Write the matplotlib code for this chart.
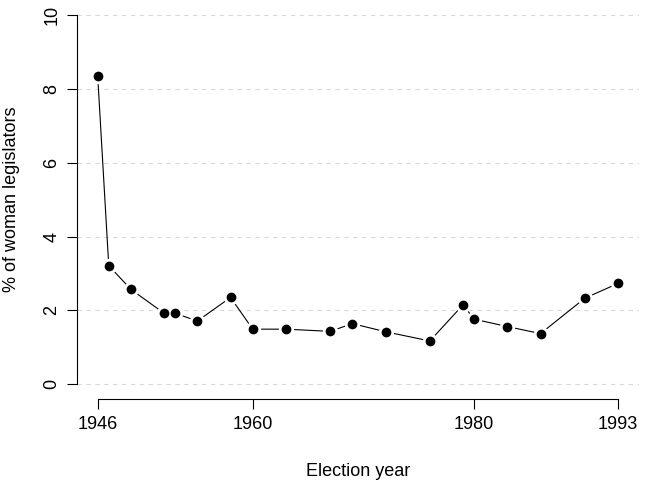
import matplotlib
matplotlib.use("Agg")
from matplotlib import pyplot as plt

years = [1946, 1947, 1949, 1952, 1953, 1955, 1958, 1960, 1963, 1967,
         1969, 1972, 1976, 1979, 1980, 1983, 1986, 1990, 1993]
pct = [8.35, 3.21, 2.57, 1.92, 1.92, 1.71, 2.35, 1.49, 1.49, 1.43,
       1.64, 1.42, 1.17, 2.15, 1.76, 1.56, 1.37, 2.33, 2.73]
xticks = [1946, 1960, 1980, 1993]
yticks = [0, 2, 4, 6, 8, 10]

plt.rcParams["font.family"] = "Liberation Sans"
fig = plt.figure(figsize=(6.46, 4.8), dpi=100)
ax = fig.add_axes([0.119, 0.169, 0.87, 0.83])

for y in yticks:
    ax.axhline(y, color="#d9d9d9", lw=0.8, ls=(0, (4, 4)), zorder=0)
ax.plot(years, pct, color="black", lw=0.8, zorder=2)
ax.plot(years, pct, "o", color="black", ms=7.5, mec="white", mew=3.5, zorder=3)
ax.plot(years, pct, "o", color="black", ms=7, mec="black", mew=0, zorder=4)

ax.set_xlim(1946 - 1.88, 1993 + 1.88)
ax.set_ylim(-0.4, 10.4)
for s in ["top", "right"]:
    ax.spines[s].set_visible(False)
ax.spines["left"].set_bounds(0, 10)
ax.spines["bottom"].set_bounds(1946, 1993)
ax.set_xticks(xticks)
ax.set_yticks(yticks)
ax.set_yticklabels([str(v) for v in yticks], rotation=90, va="center")
ax.tick_params(labelsize=13, length=7, direction="out", pad=5)
ax.set_xlabel("Election year", fontsize=13, labelpad=22)
ax.set_ylabel("% of woman legislators", fontsize=13, labelpad=17)

fig.savefig("out.png")
